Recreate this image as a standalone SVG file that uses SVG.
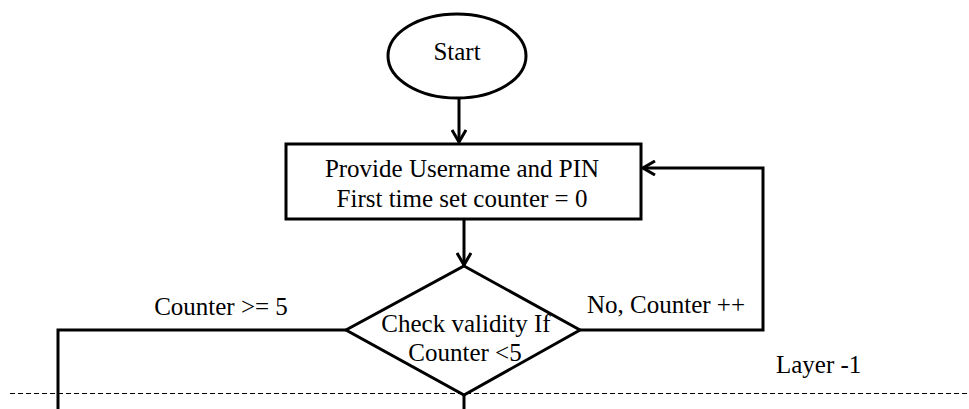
<svg xmlns="http://www.w3.org/2000/svg" width="969" height="409" viewBox="0 0 969 409">
<defs>
<marker id="arr" viewBox="0 0 14 16" refX="13" refY="8" markerWidth="14" markerHeight="16" markerUnits="userSpaceOnUse" orient="auto">
<path d="M1,1 L13,8 L1,15" fill="none" stroke="#000" stroke-width="3"/>
</marker>
</defs>
<style>
.shape{fill:#fff;stroke:#000;stroke-width:3}
.line{fill:none;stroke:#000;stroke-width:3}
.t{font-family:"Liberation Serif","Times New Roman",serif;font-size:25px;fill:#000}
.c{text-anchor:middle}
</style>
<rect width="969" height="409" fill="#fff"/>
<line x1="10" y1="393.5" x2="969" y2="393.5" stroke="#000" stroke-width="1" stroke-dasharray="5,3"/>
<g id="connectors">
<line class="line" x1="459" y1="99" x2="459" y2="142" marker-end="url(#arr)"/>
<line class="line" x1="464" y1="220" x2="464" y2="265" marker-end="url(#arr)"/>
<polyline class="line" points="580,330 763,330 763,168 643,168" marker-end="url(#arr)"/>
<polyline class="line" points="346,330 58,330 58,409"/>
<line class="line" x1="464" y1="395" x2="464" y2="409"/>
<text class="t c" x="221" y="315">Counter &gt;= 5</text>
<text class="t" x="587" y="313">No, Counter ++</text>
</g>
<g id="start">
<ellipse class="shape" cx="457" cy="56" rx="69" ry="42"/>
<text class="t c" x="457" y="60">Start</text>
</g>
<g id="provide">
<rect class="shape" x="286" y="144" width="355" height="75"/>
<text class="t c" x="462" y="177">Provide Username and PIN</text>
<text class="t c" x="462" y="207">First time set counter = 0</text>
</g>
<g id="check">
<polygon class="shape" points="464,266 580,330 464,395 346,330"/>
<text class="t c" x="466" y="332">Check validity If</text>
<text class="t c" x="465" y="361">Counter &lt;5</text>
</g>
<g id="layer">
<text class="t" x="776" y="373">Layer -1</text>
</g>
</svg>
